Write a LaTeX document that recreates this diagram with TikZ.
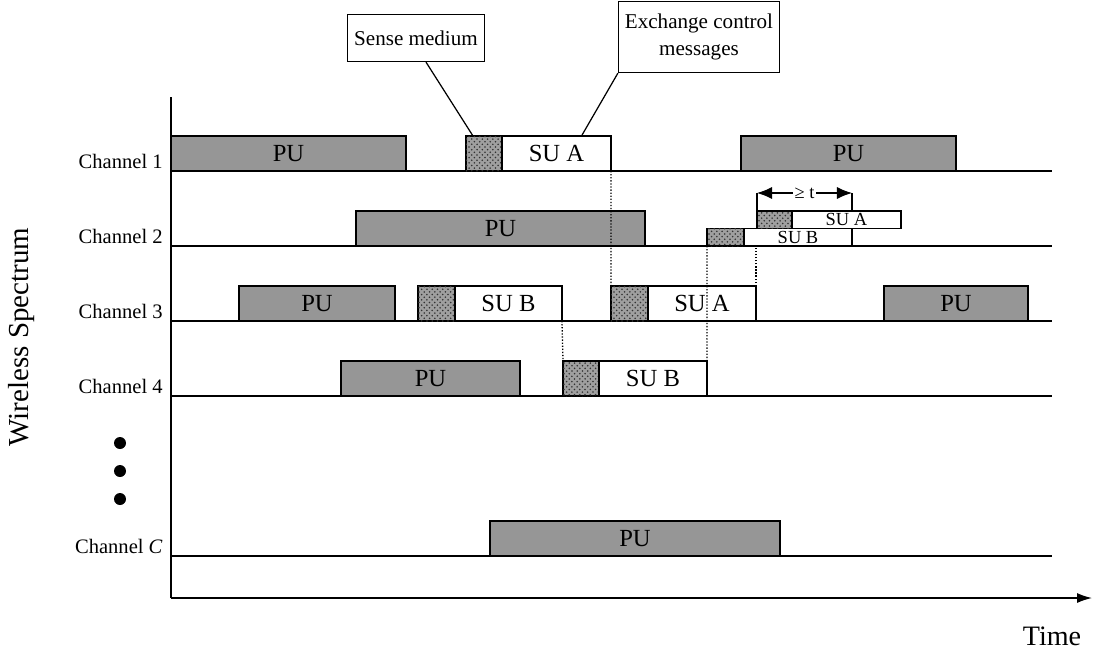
\documentclass[tikz,border=0pt]{standalone}
\usepackage{fontspec}
\setmainfont{Liberation Serif}
\usetikzlibrary{positioning,patterns,arrows.meta}
\definecolor{pugray}{RGB}{150,150,150}
\tikzset{
  slot/.style={draw, line width=0.7pt, outer sep=0pt, inner sep=0pt, minimum height=0.7cm, font=\fontsize{14}{16}\selectfont},
  pu/.style={slot, fill=pugray},
  sense/.style={slot, fill=gray!75, postaction={pattern=crosshatch dots, pattern color=black!80}, minimum width=0.72cm},
  su/.style={slot, fill=white},
  small/.style={minimum height=0.35cm, font=\fontsize{10.5}{12}\selectfont},
  callout/.style={draw, line width=0.7pt, fill=white, font=\fontsize{12}{15}\selectfont, align=center},
  chlabel/.style={anchor=base east, inner sep=0pt, font=\fontsize{11.7}{13}\selectfont},
  hop/.style={densely dotted, line width=0.75pt},
}
\begin{document}
\begin{tikzpicture}[x=0.02cm, y=-0.02cm]
    \useasboundingbox (0,0) rectangle (1094,653);
    % Achsen
    \coordinate (top) at (171,97);
    \coordinate (origin) at (171,598);
    \coordinate (tend) at (1092,598);
    \draw[line width=0.8pt] (top) -- (origin);
    \draw[line width=0.8pt, -{Latex[length=0.3cm,width=0.2cm]}] (origin) -- (tend);
    \node[font=\fontsize{16}{18}\selectfont] (time) at (1052,636) {Time};
    \node[rotate=90, font=\fontsize{16.5}{18}\selectfont] (spectrum) at (22,337) {Wireless Spectrum};
    % Kanaele
    \foreach \y/\lab/\n in {171/1/1, 246/2/2, 321/3/3, 396/4/4, 556/\textit{C}/c} {
        \coordinate (l\n) at (171,\y);
        \draw[line width=0.8pt] (l\n) -- ++(881,0);
        \node[chlabel] (ch\n) at (163,\y-3) {Channel \lab};
    }
    \foreach \y in {443,471,499}
        \fill (120,\y) circle (0.12cm);
    % Kanal 1
    \node[pu, anchor=south west, minimum width=4.70cm] (pu1a) at (171,171) {PU};
    \node[sense, anchor=south west] (sen1) at (466,171) {};
    \node[su, right=0pt of sen1, minimum width=2.18cm] (sua1) {SU A};
    \node[pu, anchor=south west, minimum width=4.30cm] (pu1b) at (741,171) {PU};
    % Kanal 2
    \coordinate (tl) at (757,193);
    \node[pu, anchor=south west, minimum width=5.78cm] (pu2) at (356,246) {PU};
    \node[sense, small, anchor=south west, minimum width=0.74cm] (sen2b) at (707,246) {};
    \node[su, small, right=0pt of sen2b, minimum width=2.16cm] (sub2) {SU B};
    \node[sense, small, anchor=south west, minimum width=0.70cm] (sen2a) at (sub2.north -| tl) {};
    \node[su, small, right=0pt of sen2a, minimum width=2.18cm] (sua2) {SU A};
    % Kanal 3
    \node[pu, anchor=south west, minimum width=3.12cm] (pu3a) at (239,321) {PU};
    \node[sense, anchor=south west, minimum width=0.74cm] (sen3b) at (418,321) {};
    \node[su, right=0pt of sen3b, minimum width=2.14cm] (sub3) {SU B};
    \node[sense, anchor=south west, minimum width=0.74cm] (sen3a) at (611,321) {};
    \node[su, right=0pt of sen3a, minimum width=2.16cm] (sua3) {SU A};
    \node[pu, anchor=south west, minimum width=2.88cm] (pu3b) at (884,321) {PU};
    % Kanal 4
    \node[pu, anchor=south west, minimum width=3.58cm] (pu4) at (341,396) {PU};
    \node[sense, anchor=south west] (sen4) at (563,396) {};
    \node[su, right=0pt of sen4, minimum width=2.16cm] (sub4) {SU B};
    % Kanal C
    \node[pu, anchor=south west, minimum width=5.80cm] (puc) at (490,556) {PU};
    % Kanalwechsel
    \draw[hop] (sua1.south east) -- (sen3a.north west);
    \draw[hop] (sub3.south east) -- (sen4.north west);
    \draw[hop] (sen2b.south west) -- (sub4.north east);
    \draw[hop] (sua3.north east) -- (sua3.north east |- sub2.south);
    % Abstand t
    \coordinate (tr) at (sub2.east |- tl);
    \draw[line width=0.6pt] (sen2a.north west) -- (tl);
    \draw[line width=0.6pt] (sub2.north east |- sua2.north) -- (tr);
    \draw[line width=0.6pt, {Latex[length=0.3cm,width=0.24cm]}-{Latex[length=0.3cm,width=0.24cm]}] (tl) -- node[fill=white, inner sep=1pt, font=\fontsize{10.5}{12}\selectfont] (gt) {≥ t} (tr);
    % Beschriftungen
    \node[callout, minimum width=2.74cm, minimum height=0.94cm] (senmed) at (416,38) {Sense medium};
    \node[callout, minimum width=3.22cm, minimum height=1.42cm] (xchg) at (699,37) {Exchange control\\messages};
    \draw[line width=0.7pt] ([xshift=0.2cm]senmed.south) -- ([xshift=0.14cm]sen1.north west);
    \draw[line width=0.7pt] (xchg.south west) -- ([xshift=0.5cm]sua1.north);
\end{tikzpicture}
\end{document}
